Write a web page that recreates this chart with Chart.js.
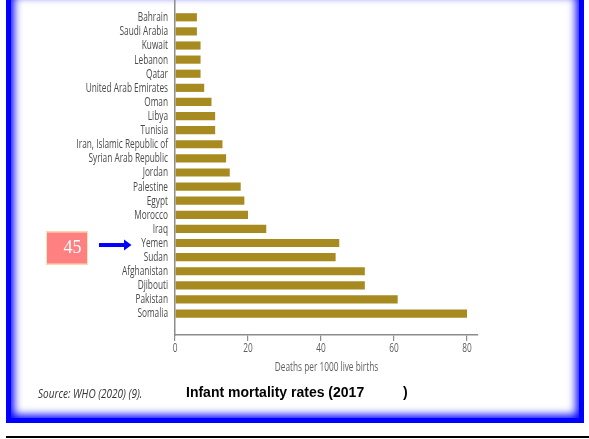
<!DOCTYPE html>
<html>
<head>
<meta charset="utf-8">
<script src="https://cdn.jsdelivr.net/npm/chart.js@4/dist/chart.umd.min.js"></script>
<style>
  html, body { margin: 0; padding: 0; background: #fff; }
  body { width: 589px; height: 439px; position: relative; overflow: hidden; }
  #frame {
    position: absolute; left: 6px; top: -12px; width: 578px; height: 435px;
    box-sizing: border-box; border: 5px solid #0000ff;
    box-shadow: inset 0 0 9px 3px #0000ff;
    background: #fff;
  }
  #rule { position: absolute; left: 6px; top: 436px; width: 583px; height: 2px; background: #000; }
  #wrap { position: absolute; left: 0; top: 0; width: 589px; height: 439px; }
  .note { position: absolute; white-space: pre; line-height: 1; }
  #source { left: 38px; top: 384px; font: italic 13px "Open Sans", sans-serif; color: #333333;
            transform: scaleX(0.77); transform-origin: 0 0; }
  #caption { left: 186px; top: 384px; font: bold 14px "Liberation Sans", Arial, sans-serif; color: #000; }
  #captionEnd { left: 403px; top: 384px; font: bold 14px "Liberation Sans", Arial, sans-serif; color: #000; }
</style>
</head>
<body>
<div id="frame"></div>
<div id="rule"></div>
<div id="wrap"><canvas id="chart" width="589" height="439"></canvas></div>
<div class="note" id="source">Source: WHO (2020) (9).</div>
<div class="note" id="caption">Infant mortality rates (2017</div>
<div class="note" id="captionEnd">)</div>
<script>
// Infant deaths per 1000 live births, by country (top to bottom)
const countries = [
  'Bahrain', 'Saudi Arabia', 'Kuwait', 'Lebanon', 'Qatar', 'United Arab Emirates',
  'Oman', 'Libya', 'Tunisia', 'Iran, Islamic Republic of', 'Syrian Arab Republic',
  'Jordan', 'Palestine', 'Egypt', 'Morocco', 'Iraq', 'Yemen', 'Sudan',
  'Afghanistan', 'Djibouti', 'Pakistan', 'Somalia'
];
const deathsPer1000 = [6, 6, 7, 7, 7, 8, 10, 11, 11, 13, 14, 15, 18, 19, 20, 25, 45, 44, 52, 52, 61, 80];
const xTickValues = [0, 20, 40, 60, 80];
const xAxisTitle = 'Deaths per 1000 live births';
const highlighted = 'Yemen';

const LABEL_FONT = '12px "Open Sans", sans-serif';
const SQUEEZE = 0.69;   // horizontal compression for the condensed label face

function condensedText(ctx, text, x, y, align) {
  ctx.save();
  ctx.translate(x, y);
  ctx.scale(SQUEEZE, 1);
  ctx.textAlign = align;
  ctx.textBaseline = 'middle';
  ctx.fillText(text, 0, 0);
  ctx.restore();
}

// Axis labels in a condensed face, positioned through the chart scales
const axisLabels = {
  id: 'axisLabels',
  afterDraw(chart) {
    const { ctx, scales: { x, y } } = chart;
    ctx.save();
    ctx.font = LABEL_FONT;
    ctx.fillStyle = '#4a4a4a';
    countries.forEach((name, i) => condensedText(ctx, name, y.right - 7, y.getPixelForValue(i) + 0.5, 'right'));
    ctx.fillStyle = '#5e5e5e';
    xTickValues.forEach(v => condensedText(ctx, String(v), x.getPixelForValue(v), x.top + 13.5, 'center'));
    condensedText(ctx, xAxisTitle, (x.left + x.right) / 2, x.top + 33, 'center');
    ctx.restore();
  }
};

// Callout box with the highlighted country's value and an arrow pointing at its label
const callout = {
  id: 'callout',
  afterDraw(chart) {
    const ctx = chart.ctx;
    const idx = countries.indexOf(highlighted);
    const yc = chart.scales.y.getPixelForValue(idx);
    ctx.save();
    ctx.fillStyle = '#ff8080';
    ctx.fillRect(46, yc - 11.5, 42, 33);
    ctx.strokeStyle = '#f6e7b4';
    ctx.lineWidth = 1;
    ctx.strokeRect(46.5, yc - 11, 41, 32);
    ctx.fillStyle = '#ffffff';
    ctx.font = '18px "Liberation Serif", "Times New Roman", serif';
    ctx.textAlign = 'center';
    ctx.textBaseline = 'middle';
    ctx.fillText(String(deathsPer1000[idx]), 72.5, yc + 5);
    // arrow
    const ay = yc + 2;
    ctx.fillStyle = '#0000ff';
    ctx.fillRect(99, ay - 2, 26, 4);
    ctx.beginPath();
    ctx.moveTo(124, ay - 5.5);
    ctx.lineTo(131.5, ay);
    ctx.lineTo(124, ay + 5.5);
    ctx.closePath();
    ctx.fill();
    ctx.restore();
  }
};

new Chart(document.getElementById('chart'), {
  type: 'bar',
  data: {
    datasets: [{
      data: deathsPer1000.map((v, i) => ({ x: v, y: i })),
      backgroundColor: '#a88b20',
      borderWidth: 0,
      barPercentage: 0.58,
      categoryPercentage: 1
    }]
  },
  options: {
    indexAxis: 'y',
    responsive: false,
    animation: false,
    layout: { padding: { left: 0, right: 111, top: 0, bottom: 62 } },
    plugins: { legend: { display: false }, tooltip: { enabled: false } },
    scales: {
      y: {
        type: 'linear',
        reverse: true,
        offset: false,
        min: -1.226,
        max: 22.52,
        afterBuildTicks: s => { s.ticks = countries.map((_, i) => ({ value: i })); },
        afterFit: s => { s.width = 175; s.paddingTop = 0; s.paddingBottom = 0; },
        grid: { display: false, drawTicks: false },
        border: { display: true, color: '#8c8c8c', width: 1.5 },
        ticks: { display: false }
      },
      x: {
        type: 'linear',
        offset: false,
        min: 0,
        max: 83,
        afterBuildTicks: s => { s.ticks = xTickValues.map(v => ({ value: v })); },
        afterFit: s => { s.height = 42; s.paddingLeft = 0; s.paddingRight = 0; },
        grid: { drawOnChartArea: false, drawTicks: true, tickLength: 6, color: '#8c8c8c', lineWidth: 1.2 },
        border: { display: true, color: '#8c8c8c', width: 1.5 },
        ticks: { display: false }
      }
    }
  },
  plugins: [axisLabels, callout]
});
</script>
</body>
</html>
